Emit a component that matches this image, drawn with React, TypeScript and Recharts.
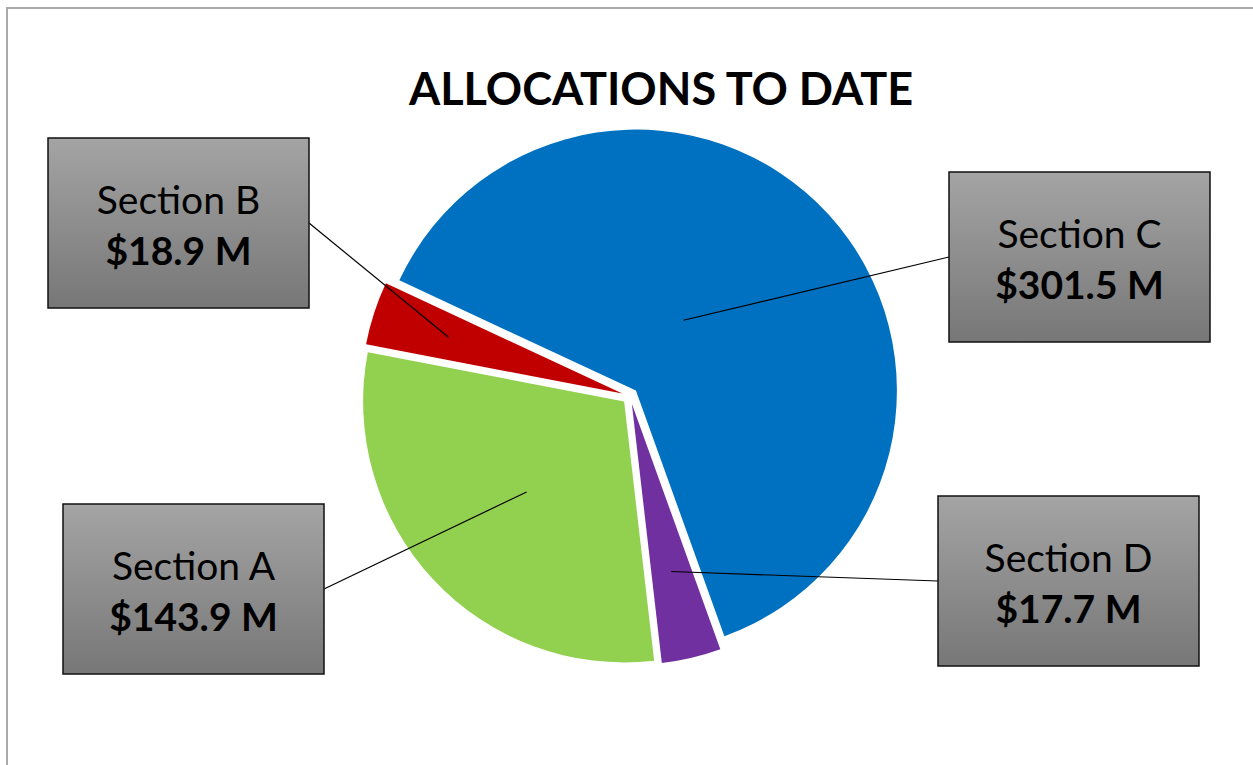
import { PieChart, Pie, Sector } from 'recharts';

const sections = ['Section A', 'Section B', 'Section C', 'Section D'];
const amounts = [143.9, 18.9, 301.5, 17.7];
const colors = ['#92d050', '#c00000', '#0070c0', '#7030a0'];

const data = sections.map((name, i) => ({ name, value: amounts[i] }));

// hand-placed callout boxes, like the source sheet
const BOX_W = 261;
const BOX_H = 170;
const boxes = [
  { x: 63, y: 504, side: 'right', r: 0.51, da: 0 },
  { x: 48, y: 138, side: 'right', r: 0.7, da: 0 },
  { x: 949, y: 172, side: 'left', r: 0.325, da: 13.6 },
  { x: 938, y: 496, side: 'left', r: 0.66, da: 0 },
];

const EXPLODE = 8;
const RAD = Math.PI / 180;

const renderSlice = (props: any) => {
  const { cx, cy, outerRadius, startAngle, endAngle, midAngle, index, value } = props;
  const dx = EXPLODE * Math.cos(-midAngle * RAD);
  const dy = EXPLODE * Math.sin(-midAngle * RAD);
  const ox = cx + dx;
  const oy = cy + dy;

  const b = boxes[index];
  const a = (midAngle + b.da) * RAD;
  const tx = ox + outerRadius * b.r * Math.cos(-a);
  const ty = oy + outerRadius * b.r * Math.sin(-a);
  const sx = b.side === 'right' ? b.x + BOX_W : b.x;
  const sy = b.y + BOX_H / 2;
  const gid = `boxfill-${index}`;

  return (
    <g>
      <Sector
        cx={ox}
        cy={oy}
        innerRadius={0}
        outerRadius={outerRadius}
        startAngle={startAngle}
        endAngle={endAngle}
        fill={colors[index]}
        stroke="none"
      />
      <line x1={sx} y1={sy} x2={tx} y2={ty} stroke="#000" strokeWidth={1.2} />
      <defs>
        <linearGradient id={gid} x1="0" y1="0" x2="0" y2="1">
          <stop offset="0%" stopColor="#a4a4a4" />
          <stop offset="100%" stopColor="#777777" />
        </linearGradient>
      </defs>
      <rect
        x={b.x}
        y={b.y}
        width={BOX_W}
        height={BOX_H}
        fill={`url(#${gid})`}
        stroke="#111"
        strokeWidth={1.5}
      />
      <text
        x={b.x + BOX_W / 2}
        y={b.y + 76}
        textAnchor="middle"
        fontFamily="Lato, sans-serif"
        fontSize={39}
        fill="#000"
      >
        {sections[index]}
      </text>
      <text
        x={b.x + BOX_W / 2}
        y={b.y + 127}
        textAnchor="middle"
        fontFamily="Lato, sans-serif"
        fontWeight="bold"
        fontSize={39}
        fill="#000"
      >
        {`$${value.toFixed(1)} M`}
      </text>
    </g>
  );
};

export default function App() {
  return (
    <div
      style={{
        position: 'absolute',
        left: 0,
        top: 0,
        width: 1253,
        height: 765,
        overflow: 'hidden',
        background: '#fff',
      }}
    >
      <div
        style={{
          position: 'absolute',
          left: 6,
          top: 7,
          width: 1400,
          height: 900,
          borderLeft: '2px solid #a9a9a9',
          borderTop: '2px solid #a9a9a9',
        }}
      />
      <svg
        width={1253}
        height={765}
        style={{ position: 'absolute', left: 0, top: 0, pointerEvents: 'none' }}
      >
        <text
          x={661}
          y={105}
          textAnchor="middle"
          fontFamily="Lato, sans-serif"
          fontWeight="bold"
          fontSize={45}
          fill="#000"
        >
          ALLOCATIONS TO DATE
        </text>
      </svg>
      <div style={{ position: 'absolute', left: 0, top: 0 }}>
        <PieChart width={1253} height={765} margin={{ top: 0, right: 0, bottom: 0, left: 0 }}>
          <Pie
            data={data}
            dataKey="value"
            nameKey="name"
            cx={630}
            cy={396}
            innerRadius={0}
            outerRadius={261}
            startAngle={-83.4}
            endAngle={-443.4}
            fill="none"
            stroke="none"
            label={renderSlice}
            labelLine={false}
            isAnimationActive={false}
          />
        </PieChart>
      </div>
    </div>
  );
}
